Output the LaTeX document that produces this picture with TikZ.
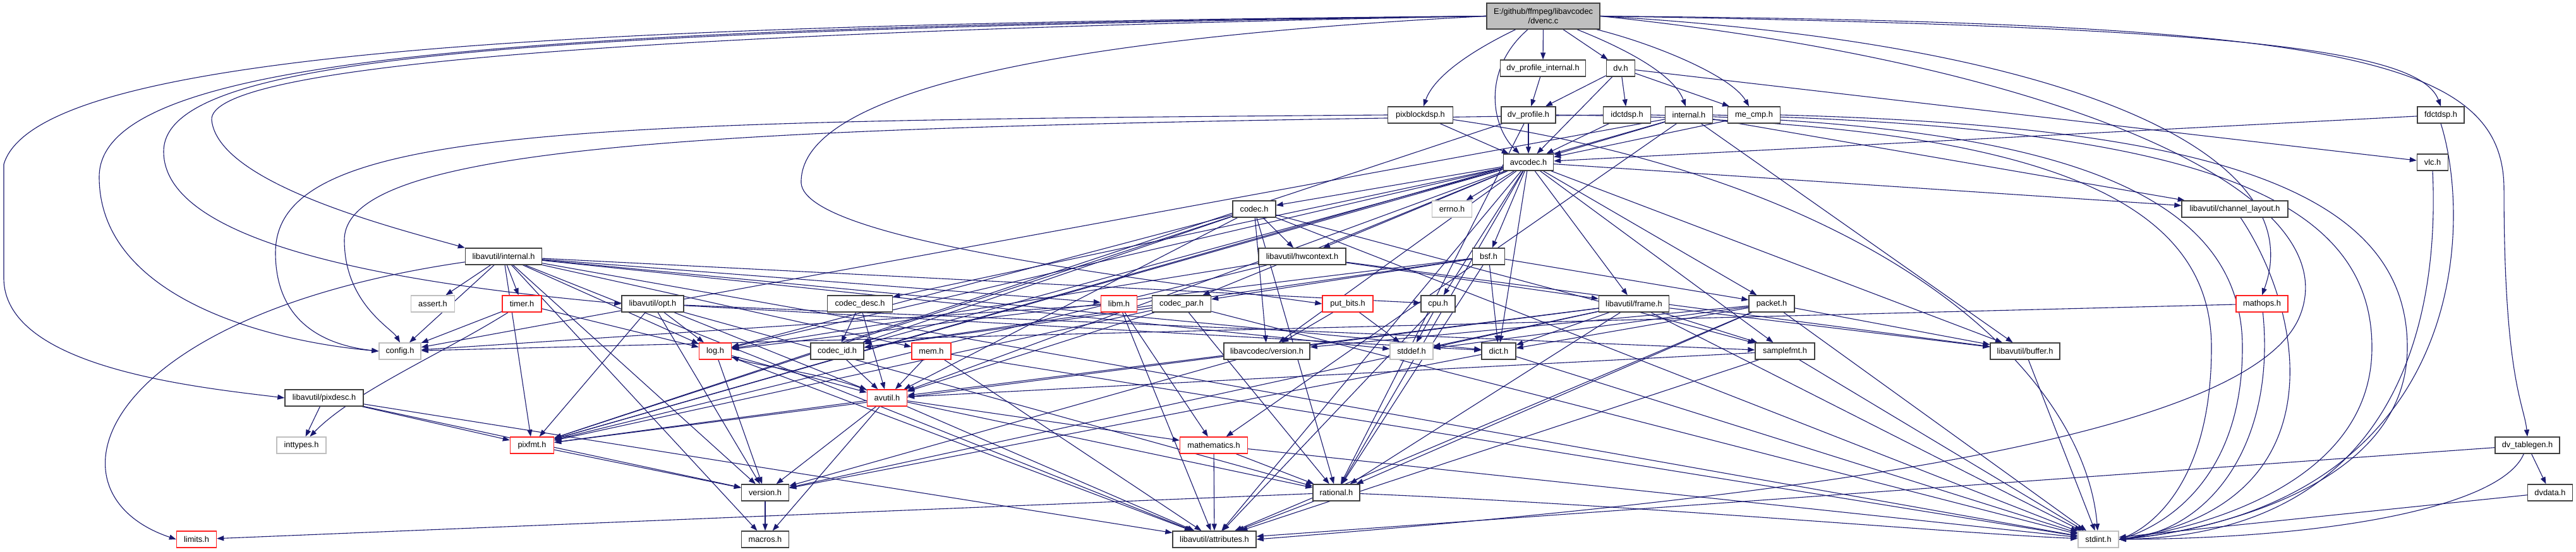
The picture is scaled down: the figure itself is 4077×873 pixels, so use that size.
\documentclass[tikz,border=0pt]{standalone}
\usepackage{fontspec}
\setmainfont{Liberation Sans}
\usetikzlibrary{arrows.meta}
\pgfdeclarelayer{bg}
\pgfsetlayers{bg,main}
\definecolor{edgec}{HTML}{191970}
\definecolor{sysgray}{HTML}{BFBFBF}
\definecolor{rootgray}{HTML}{BFBFBF}
\definecolor{trunc}{HTML}{FF2020}
\definecolor{bordc}{HTML}{404040}
\begin{document}
\begin{tikzpicture}[x=1pt,y=-1pt,
  box/.style={draw=bordc,line width=1.4pt,fill=white,inner sep=0pt,minimum height=26pt,font=\fontsize{12.8}{15}\selectfont,text=black},
  sysbox/.style={box,draw=sysgray},
  redbox/.style={box,draw=trunc},
  ln/.style={draw=edgec,line width=1.1pt,-{Triangle[length=11pt,width=8pt]}},
]
\useasboundingbox (0,0) rectangle (4077,873);

% ---- nodes ----
\node[box,fill=rootgray,minimum width=179pt,minimum height=41pt,align=center] (dvenc) at (2442.5,25.5) {E:/github/ffmpeg/libavcodec\\/dvenc.c};
\node[box,minimum width=135pt] (dvpi) at (2442,108) {dv\_profile\_internal.h};
\node[box,minimum width=45pt] (dvh) at (2565,108) {dv.h};
\node[box,minimum width=103pt] (pixblk) at (2248,182) {pixblockdsp.h};
\node[box,minimum width=86pt] (dvprof) at (2419,182) {dv\_profile.h};
\node[box,minimum width=75pt] (idct) at (2575,182) {idctdsp.h};
\node[box,minimum width=75pt] (intl) at (2673,182) {internal.h};
\node[box,minimum width=83pt] (mecmp) at (2776,182) {me\_cmp.h};
\node[box,minimum width=74pt] (fdct) at (3863,182) {fdctdsp.h};
\node[box,minimum width=79pt] (avcodec) at (2419,257) {avcodec.h};
\node[box,minimum width=49pt] (vlc) at (3850,257) {vlc.h};
\node[box,minimum width=68pt] (codec) at (1985,331) {codec.h};
\node[sysbox,minimum width=63pt] (errno) at (2298,331) {errno.h};
\node[box,minimum width=168pt] (chlay) at (3537,331) {libavutil/channel\_layout.h};
\node[box,minimum width=121pt] (avuint) at (797,406) {libavutil/internal.h};
\node[box,minimum width=138pt] (hwctx) at (2061,406) {libavutil/hwcontext.h};
\node[box,minimum width=51pt] (bsf) at (2356,406) {bsf.h};
\node[sysbox,minimum width=69pt] (assert) at (685,481) {assert.h};
\node[redbox,minimum width=62pt] (timer) at (826,481) {timer.h};
\node[box,minimum width=98pt] (opt) at (1033,481) {libavutil/opt.h};
\node[box,minimum width=103pt] (cdesc) at (1361,481) {codec\_desc.h};
\node[redbox,minimum width=57pt] (libm) at (1771,481) {libm.h};
\node[box,minimum width=93pt] (cpar) at (1870,481) {codec\_par.h};
\node[redbox,minimum width=80pt] (putbits) at (2133,481) {put\_bits.h};
\node[box,minimum width=54pt] (cpu) at (2276,481) {cpu.h};
\node[box,minimum width=111pt] (frame) at (2586,481) {libavutil/frame.h};
\node[box,minimum width=72pt] (packet) at (2804,481) {packet.h};
\node[redbox,minimum width=82pt] (mathops) at (3580,481) {mathops.h};
\node[sysbox,minimum width=66pt] (config) at (633,556) {config.h};
\node[redbox,minimum width=51pt] (log) at (1132,556) {log.h};
\node[box,minimum width=84pt] (cid) at (1325,556) {codec\_id.h};
\node[redbox,minimum width=62pt] (mem) at (1474,556) {mem.h};
\node[box,minimum width=136pt] (lcver) at (2005,556) {libavcodec/version.h};
\node[sysbox,minimum width=68pt] (stddef) at (2234,556) {stddef.h};
\node[box,minimum width=54pt] (dict) at (2372,556) {dict.h};
\node[box,minimum width=94pt] (sfmt) at (2825,556) {samplefmt.h};
\node[box,minimum width=110pt] (buffer) at (3205,556) {libavutil/buffer.h};
\node[box,minimum width=124pt] (pixdesc) at (513,630) {libavutil/pixdesc.h};
\node[redbox,minimum width=63pt] (avutil) at (1404,630) {avutil.h};
\node[sysbox,minimum width=78pt] (inttypes) at (477,705) {inttypes.h};
\node[redbox,minimum width=69pt] (pixfmt) at (842,705) {pixfmt.h};
\node[redbox,minimum width=107pt] (mathem) at (1921,705) {mathematics.h};
\node[box,minimum width=102pt] (dvtab) at (4000,705) {dv\_tablegen.h};
\node[box,minimum width=75pt] (version) at (1211,780) {version.h};
\node[box,minimum width=74pt] (rational) at (2115,780) {rational.h};
\node[box,minimum width=71pt] (dvdata) at (4036,780) {dvdata.h};
\node[redbox,minimum width=63pt] (limits) at (311,854) {limits.h};
\node[box,minimum width=75pt] (macros) at (1211,854) {macros.h};
\node[box,minimum width=132pt] (attr) at (1922,854) {libavutil/attributes.h};
\node[sysbox,minimum width=64pt] (stdint) at (3321,854) {stdint.h};

\begin{pgfonlayer}{bg}
\fill[white] (0,0) rectangle (4077,873);
% dvenc.c
\draw[ln] (dvenc) -- (dvpi);
\draw[ln] (dvenc) -- (dvh);
\draw[ln] (dvenc) .. controls (2330,80) and (2270,120) .. (pixblk);
\draw[ln] (dvenc) .. controls (2345,110) and (2360,200) .. (avcodec);
\draw[ln] (dvenc) .. controls (2580,80) and (2650,120) .. (intl);
\draw[ln] (dvenc) .. controls (2620,70) and (2740,120) .. (mecmp);
\draw[ln] (dvenc.west) .. controls (900,38) and (60,80) .. (6,260) -- (6,440) .. controls (6,580) and (300,612) .. (pixdesc.west);
\draw[ln] (dvenc.west) .. controls (800,43) and (157,90) .. (157,280) .. controls (157,470) and (420,540) .. (config.west);
\draw[ln] (dvenc.west) .. controls (800,48) and (259,90) .. (259,240) .. controls (259,400) and (700,455) .. (opt.west);
\draw[ln] (dvenc.west) .. controls (900,53) and (330,110) .. (335,190) .. controls (345,290) and (620,360) .. (avuint.north west);
\draw[ln] (dvenc.west) .. controls (1500,70) and (1265,180) .. (1268,290) .. controls (1275,380) and (1800,440) .. (putbits.west);
\draw[ln] (dvenc.east) .. controls (3700,35) and (3963,90) .. (3963,300) .. controls (3963,600) and (3995,640) .. (dvtab.north);
\draw[ln] (dvenc.east) .. controls (3550,42) and (3830,80) .. (fdct.north);
\draw[ln] (dvenc.east) .. controls (3300,70) and (3660,250) .. (mathops.north);
\draw[ln] (dvenc.east) .. controls (3250,100) and (3720,300) .. (3640,500) .. controls (3560,700) and (2800,790) .. (attr.east);
% dv_profile_internal.h, dv.h
\draw[ln] (dvpi) -- (dvprof);
\draw[ln] (dvh) -- (dvprof);
\draw[ln] (dvh) -- (avcodec);
\draw[ln] (dvh) -- (idct);
\draw[ln] (dvh) -- (mecmp);
\draw[ln] (dvh) -- (vlc);
% pixblockdsp.h
\draw[ln] (pixblk) -- (avcodec);
\draw[ln] (pixblk.west) .. controls (900,192) and (436,200) .. (436,400) .. controls (436,500) and (500,545) .. (config.west);
\draw[ln] (pixblk) .. controls (3000,290) and (3300,600) .. (stdint);
% dv_profile.h
\draw[ln] (dvprof) -- (avcodec);
\draw[ln] (dvprof) -- (pixfmt);
\draw[ln] (dvprof) -- (rational);
\draw[ln] (dvprof.east) .. controls (3200,190) and (3500,300) .. (3500,550) .. controls (3500,780) and (3390,840) .. (stdint.east);
% idctdsp.h
\draw[ln] (idct) -- (avcodec);
\draw[ln] (idct.west) .. controls (1200,200) and (545,220) .. (545,380) .. controls (545,480) and (620,520) .. (config.north);
\draw[ln] (idct.east) .. controls (3250,195) and (3549,300) .. (3549,550) .. controls (3549,780) and (3400,840) .. (stdint.east);
% internal.h
\draw[ln] (intl) -- (avcodec);
\draw[ln] (intl) -- (buffer);
\draw[ln] (intl) -- (chlay);
\draw[ln] (intl) -- (mathem);
\draw[ln] (intl) -- (pixfmt);
\draw[ln] (intl) -- (config);
\draw[ln] (intl.east) .. controls (3450,200) and (3754,300) .. (3754,550) .. controls (3754,790) and (3420,845) .. (stdint.east);
% me_cmp.h
\draw[ln] (mecmp) -- (avcodec);
\draw[ln] (mecmp.east) .. controls (3500,200) and (3810,300) .. (3810,550) .. controls (3810,795) and (3430,848) .. (stdint.east);
% fdctdsp.h, vlc.h, channel_layout, mathops
\draw[ln] (fdct) -- (avcodec);
\draw[ln] (fdct.south) .. controls (3912,350) and (3912,800) .. (stdint.east);
\draw[ln] (vlc.south) .. controls (3861,500) and (3800,845) .. (stdint.east);
\draw[ln] (chlay) .. controls (3650,500) and (3701,800) .. (stdint.east);
\draw[ln] (mathops) .. controls (3602,700) and (3500,840) .. (stdint.east);
\draw[ln] (mathops) -- (config);
% dv_tablegen.h, dvdata.h
\draw[ln] (dvtab) .. controls (3960,800) and (3700,852) .. (stdint.east);
\draw[ln] (dvtab) -- (dvdata);
\draw[ln] (dvtab) -- (attr);
\draw[ln] (dvdata) -- (stdint);
% put_bits.h
\draw[ln] (putbits) -- (stddef);
\draw[ln] (putbits) -- (lcver);
% avcodec.h
\foreach \t in {errno,sfmt,attr,avutil,buffer,cpu,chlay,dict,frame,hwctx,log,pixfmt,rational,bsf,codec,cdesc,cpar,cid,packet,lcver}
  \draw[ln] (avcodec) -- (\t);
% codec.h
\foreach \t in {stdint,avutil,hwctx,log,pixfmt,rational,sfmt,cid,lcver}
  \draw[ln] (codec) -- (\t);
% bsf.h
\foreach \t in {dict,log,rational,cid,cpar,packet}
  \draw[ln] (bsf) -- (\t);
% codec_desc.h, codec_id.h
\draw[ln] (cdesc) -- (avutil);
\draw[ln] (cdesc) -- (cid);
\draw[ln] (cid) -- (avutil);
% codec_par.h
\foreach \t in {stdint,avutil,rational,pixfmt,cid}
  \draw[ln] (cpar) -- (\t);
% packet.h
\foreach \t in {stddef,stdint,attr,buffer,dict,rational,lcver}
  \draw[ln] (packet) -- (\t);
\draw[ln] (lcver) -- (version);
% frame.h
\foreach \t in {stddef,stdint,avutil,buffer,dict,rational,sfmt,pixfmt,version}
  \draw[ln] (frame) -- (\t);
% hwcontext.h
\foreach \t in {buffer,frame,log,pixfmt}
  \draw[ln] (hwctx) -- (\t);
\draw[ln] (buffer) -- (stdint);
\draw[ln] (dict) -- (stdint);
\draw[ln] (dict) -- (version);
\foreach \t in {avutil,attr,stdint}
  \draw[ln] (sfmt) -- (\t);
\draw[ln] (cpu) -- (stddef);
\draw[ln] (cpu) -- (attr);
% log.h
\foreach \t in {avutil,attr,version}
  \draw[ln] (log) -- (\t);
% avutil.h
\draw[ln] (avutil) -- (version);
\draw[ln] (avutil) -- (macros);
\draw[ln] (avutil) -- (rational);
\draw[ln] (avutil) -- (mathem);
\draw[ln] (avutil) .. controls (1300,590) and (1200,580) .. (log);
\draw[ln] (avutil) -- (pixfmt);
\draw[ln] (avutil) -- (attr);
% rational.h, mathematics.h
\draw[ln] (rational) .. controls (2600,800) and (3100,845) .. (stdint);
\draw[ln] (rational) -- (limits);
\draw[ln] (rational) -- (attr);
\draw[ln] (mathem) -- (stdint);
\draw[ln] (mathem) -- (attr);
\draw[ln] (mathem) -- (rational);
\draw[ln] (version) -- (macros);
\draw[ln] (pixfmt) -- (version);
% mem.h
\foreach \t in {avutil,attr,stdint}
  \draw[ln] (mem) -- (\t);
% libm.h
\foreach \t in {config,attr,mathem}
  \draw[ln] (libm) -- (\t);
% timer.h
\draw[ln] (timer) -- (config);
\draw[ln] (timer) -- (log);
\draw[ln] (timer) .. controls (700,560) and (560,620) .. (inttypes);
% libavutil/internal.h
\draw[ln] (avuint) .. controls (150,500) and (60,780) .. (limits.west);
\foreach \t in {stdint,stddef,assert,config,attr,timer,cpu,dict,macros,mem,pixfmt,version,libm,log}
  \draw[ln] (avuint) -- (\t);
% libavutil/opt.h
\foreach \t in {rational,avutil,dict,log,pixfmt,sfmt,version}
  \draw[ln] (opt) -- (\t);
% libavutil/pixdesc.h
\foreach \t in {inttypes,attr,pixfmt,version}
  \draw[ln] (pixdesc) -- (\t);
\end{pgfonlayer}
\end{tikzpicture}
\end{document}
